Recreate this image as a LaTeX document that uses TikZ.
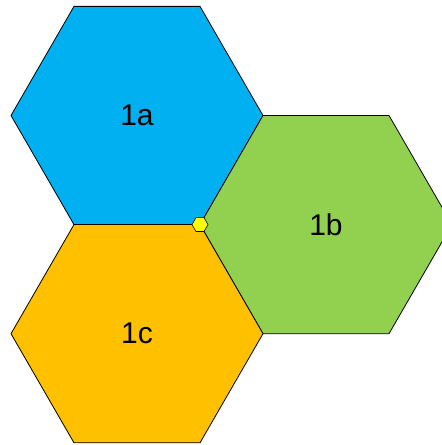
\documentclass[tikz,border=0pt]{standalone}
\usepackage{fontspec}
\setmainfont{Liberation Sans}
\usetikzlibrary{shapes.geometric}
\definecolor{hexblue}{HTML}{00B0F0}
\definecolor{hexgreen}{HTML}{92D050}
\definecolor{hexorange}{HTML}{FFC000}
\definecolor{hexyellow}{HTML}{FFFF00}
\begin{document}
\begin{tikzpicture}[
  x=1pt, y=1pt,
  hex/.style={regular polygon, regular polygon sides=6, draw=black, line width=0.8pt,
    minimum size=252pt, inner sep=0pt, outer sep=0pt, font=\fontsize{30}{34}\selectfont},
  pivot/.style={regular polygon, regular polygon sides=6, draw=black, line width=0.6pt,
    fill=hexyellow, minimum size=16pt, inner sep=0pt}
]
  \useasboundingbox (0,0) rectangle (442,445);
  \clip (0,0) rectangle (442,445);
  \node[hex, fill=hexblue] (hexA) at (137,329.5) {1a};
  \node[hex, fill=hexgreen] (hexB) at (326,220.4) {1b};
  \node[hex, fill=hexorange] (hexC) at (137,111.3) {1c};
  \node[pivot] (centre) at (200,220.4) {};
\end{tikzpicture}
\end{document}
